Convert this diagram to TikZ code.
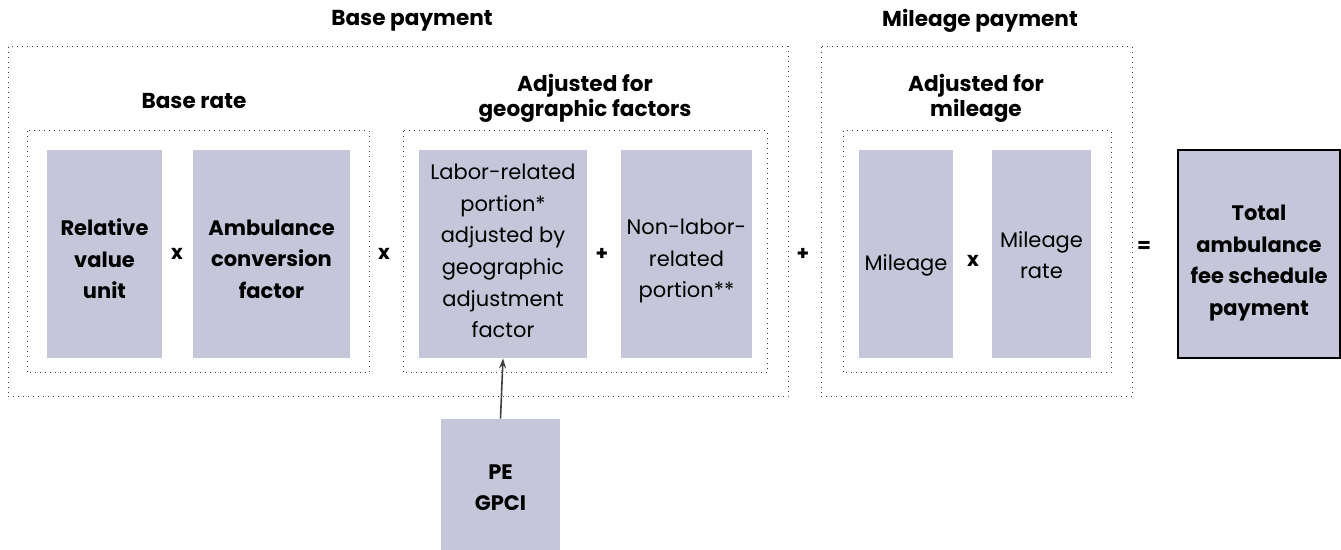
\documentclass[tikz,border=0pt]{standalone}
\usepackage{fontspec}
\setmainfont{Poppins}
\usetikzlibrary{arrows.meta,fit}
\definecolor{boxfill}{RGB}{197,198,217}
\definecolor{dotgray}{RGB}{60,60,60}

\begin{document}
\begin{tikzpicture}[x=0.5pt, y=-0.5pt,
    cell/.style={fill=boxfill, inner sep=0pt},
    celltext/.style={align=center, inner sep=0pt,
      font=\fontsize{10.5}{15.8}\selectfont},
    keytext/.style={celltext, font=\fontsize{10.5}{15.8}\selectfont\bfseries},
    frame/.style={draw=dotgray, dotted, line width=0.5pt},
    heading/.style={align=center, font=\fontsize{10.8}{12.6}\selectfont\bfseries},
    op/.style={inner sep=0pt, font=\fontsize{10}{12}\selectfont\bfseries}]
  \useasboundingbox (0,0) rectangle (1341,550);
  % dotted frames
  \draw[frame] (8,47)   rectangle (788,397);
  \draw[frame] (821,47) rectangle (1132,397);
  \draw[frame] (27,131)  rectangle (369,373);
  \draw[frame] (403,131) rectangle (767,373);
  \draw[frame] (843,131) rectangle (1111,373);
  % headings
  \node[heading] (basepay) at (412,21)  {Base payment};
  \node[heading] (milepay) at (980,21)  {Mileage payment};
  \node[heading] (baserate) at (194,101) {Base rate};
  \node[heading] (geohead) at (585,98)  {Adjusted for\\geographic factors};
  \node[heading] (milehead) at (976,98) {Adjusted for\\mileage};
  % boxes
  \node[cell, fit={(47,150) (162,358)},
    label={[keytext, yshift=-2.5pt]center:{Relative\\value\\unit}}] (rvu) {};
  \node[cell, fit={(193,150) (350,358)},
    label={[keytext, yshift=-2.5pt]center:{Ambulance\\conversion\\factor}}] (acf) {};
  \node[cell, fit={(419,150) (587,358)},
    label={[celltext, yshift=1.5pt]center:{Labor-related\\portion*\\adjusted by\\geographic\\adjustment\\factor}}] (labor) {};
  \node[cell, fit={(621,150) (752,358)},
    label={[celltext, yshift=-3.5pt]center:{Non-labor-\\related\\portion**}}] (nonlabor) {};
  \node[cell, fit={(859,150) (953,358)},
    label={[celltext, yshift=-5.5pt]center:{Mileage}}] (mileage) {};
  \node[cell, fit={(992,150) (1091,358)},
    label={[celltext, yshift=-0.5pt]center:{Mileage\\rate}}] (mrate) {};
  \node[cell, draw=black, line width=1pt, fit={(1178,150) (1340,358)},
    label={[keytext, yshift=-4.5pt]center:{Total\\ambulance\\fee schedule\\payment}}] (total) {};
  \node[cell, fit={(441,419) (560,550)},
    label={[keytext, yshift=-1.5pt]center:{PE\\GPCI}}] (gpci) {};
  % operators
  \node[op] (op1) at (177,254)  {x};
  \node[op] (op2) at (384,254)  {x};
  \node[op] (op3) at (602,254)  {+};
  \node[op] (op4) at (803,254)  {+};
  \node[op] (op5) at (973,261)  {x};
  \node[op] (op6) at (1144,247) {=};
  % arrow
  \draw[-{Stealth[length=5pt,width=3.5pt]}, line width=0.8pt, black!75] (gpci.north) -- (labor.south);
\end{tikzpicture}
\end{document}
